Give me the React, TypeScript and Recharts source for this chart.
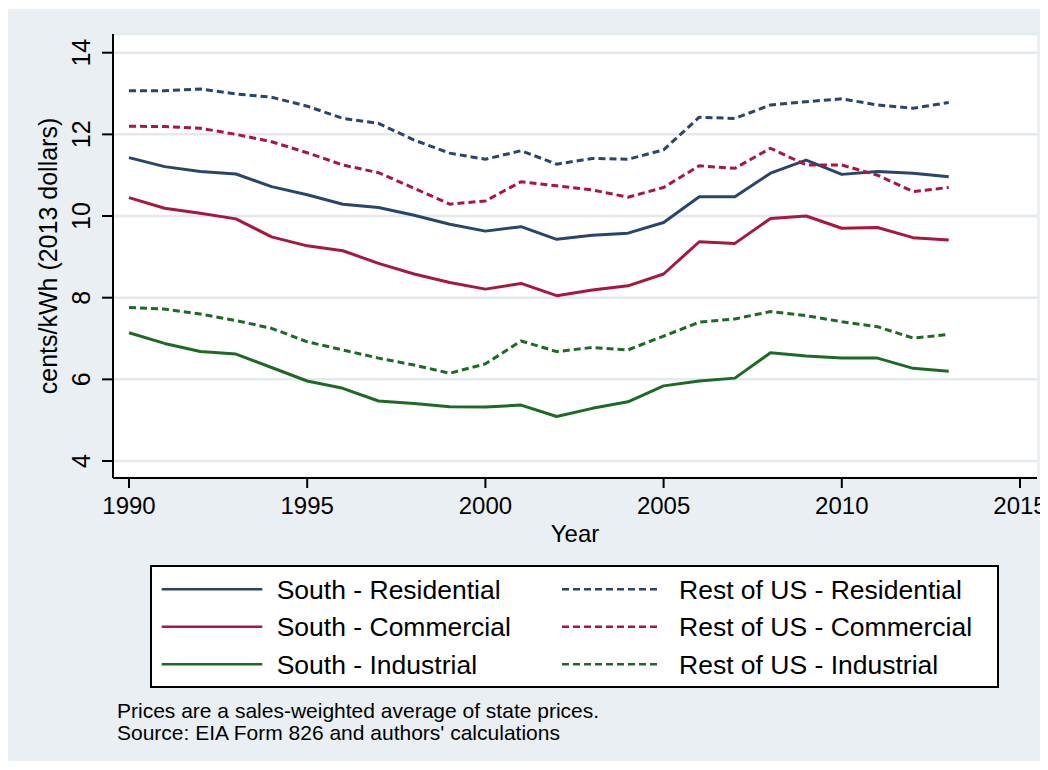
import React from 'react';
import { LineChart, Line, XAxis, YAxis, CartesianGrid } from 'recharts';

const FONT = '"Liberation Sans", Arial, Helvetica, sans-serif';

const years = [1990, 1991, 1992, 1993, 1994, 1995, 1996, 1997, 1998, 1999, 2000, 2001, 2002, 2003, 2004, 2005, 2006, 2007, 2008, 2009, 2010, 2011, 2012, 2013];

const southResidential = [11.43, 11.21, 11.09, 11.03, 10.72, 10.52, 10.29, 10.21, 10.02, 9.8, 9.63, 9.74, 9.43, 9.53, 9.58, 9.84, 10.47, 10.47, 11.05, 11.37, 11.02, 11.09, 11.05, 10.96];
const southCommercial = [10.45, 10.19, 10.07, 9.93, 9.49, 9.27, 9.15, 8.84, 8.58, 8.37, 8.21, 8.35, 8.05, 8.19, 8.29, 8.58, 9.37, 9.33, 9.94, 10.0, 9.7, 9.72, 9.47, 9.41];
const southIndustrial = [7.14, 6.88, 6.68, 6.62, 6.29, 5.96, 5.78, 5.47, 5.41, 5.33, 5.32, 5.37, 5.09, 5.29, 5.45, 5.84, 5.96, 6.03, 6.65, 6.57, 6.52, 6.52, 6.27, 6.2];
const restResidential = [13.07, 13.07, 13.11, 12.99, 12.91, 12.69, 12.39, 12.27, 11.86, 11.54, 11.39, 11.6, 11.27, 11.41, 11.39, 11.62, 12.42, 12.39, 12.72, 12.8, 12.87, 12.72, 12.64, 12.78];
const restCommercial = [12.2, 12.19, 12.15, 12.0, 11.82, 11.55, 11.25, 11.06, 10.68, 10.29, 10.37, 10.84, 10.74, 10.64, 10.46, 10.7, 11.23, 11.17, 11.66, 11.25, 11.25, 11.0, 10.6, 10.7];
const restIndustrial = [7.76, 7.72, 7.6, 7.44, 7.25, 6.92, 6.72, 6.52, 6.35, 6.15, 6.38, 6.94, 6.68, 6.78, 6.72, 7.06, 7.4, 7.48, 7.66, 7.56, 7.41, 7.29, 7.01, 7.1];

const xTicks = [1990, 1995, 2000, 2005, 2010, 2015];
const yTicks = [4, 6, 8, 10, 12, 14];

const NAVY = '#28456d';
const MAROON = '#a8173f';
const GREEN = '#1d6a25';

const series = [
  { key: 'southResidential', name: 'South - Residential', color: NAVY, dashed: false, values: southResidential },
  { key: 'southCommercial', name: 'South - Commercial', color: MAROON, dashed: false, values: southCommercial },
  { key: 'southIndustrial', name: 'South - Industrial', color: GREEN, dashed: false, values: southIndustrial },
  { key: 'restResidential', name: 'Rest of US - Residential', color: NAVY, dashed: true, values: restResidential },
  { key: 'restCommercial', name: 'Rest of US - Commercial', color: MAROON, dashed: true, values: restCommercial },
  { key: 'restIndustrial', name: 'Rest of US - Industrial', color: GREEN, dashed: true, values: restIndustrial },
];

const data = years.map((year, i) => {
  const row: Record<string, number> = { year };
  series.forEach((s) => {
    row[s.key] = s.values[i];
  });
  return row;
});

const CHART_W = 1040;
const CHART_H = 560;
const MARGIN = { top: 25, right: 11, left: 0, bottom: 0 };
const Y_AXIS_W = 105;
const X_AXIS_H = 91;

const YTick = (props: any) => {
  const { x, y, payload } = props;
  return (
    <text
      x={x}
      y={y}
      transform={`rotate(-90, ${x}, ${y})`}
      textAnchor="middle"
      fontSize={25}
      fill="#000"
      fontFamily={FONT}
    >
      {payload.value}
    </text>
  );
};

const XTick = (props: any) => {
  const { x, y, payload } = props;
  return (
    <text x={x} y={y} dy="0.71em" textAnchor="middle" fontSize={24} fill="#000" fontFamily={FONT}>
      {payload.value}
    </text>
  );
};

const YTitle = (props: any) => {
  const vb = props && props.viewBox && props.viewBox.height ? props.viewBox : { x: 0, y: MARGIN.top, width: Y_AXIS_W, height: CHART_H - MARGIN.top - X_AXIS_H };
  const cx = vb.x + 49;
  const cy = vb.y + vb.height / 2;
  return (
    <text x={cx} y={cy} transform={`rotate(-90, ${cx}, ${cy})`} textAnchor="middle" fontSize={25} fill="#000" fontFamily={FONT}>
      cents/kWh (2013 dollars)
    </text>
  );
};

const XTitle = (props: any) => {
  const vb = props && props.viewBox && props.viewBox.width ? props.viewBox : { x: Y_AXIS_W, y: CHART_H - X_AXIS_H, width: CHART_W - Y_AXIS_W - MARGIN.right, height: X_AXIS_H };
  return (
    <text x={vb.x + vb.width / 2} y={vb.y + 64} textAnchor="middle" fontSize={24} fill="#000" fontFamily={FONT}>
      Year
    </text>
  );
};

const LEGEND = { left: 142, top: 556, width: 849, height: 123 };
const legendRows = [24.3, 61.7, 99.3];
const legendCols = [
  { x1: 11.7, x2: 112.3, tx: 126.7 },
  { x1: 412, x2: 511, tx: 529 },
];

export default function App() {
  const southSeries = series.filter((s) => !s.dashed);
  const restSeries = series.filter((s) => s.dashed);
  return (
    <div
      style={{
        position: 'relative',
        top: 1,
        width: 1040,
        height: 753,
        background: '#e9eff2',
        fontFamily: FONT,
      }}
    >
      <style>{'html,body{overflow:hidden}.recharts-surface{overflow:visible}.recharts-wrapper{overflow:visible}'}</style>
      <LineChart width={CHART_W} height={CHART_H} data={data} margin={MARGIN}>
        <CartesianGrid vertical={false} stroke="#e3e9ec" strokeWidth={2.5} fill="#ffffff" />
        <XAxis
          dataKey="year"
          type="number"
          domain={[1989.551, 2015.477]}
          allowDataOverflow
          ticks={xTicks}
          interval={0}
          height={X_AXIS_H}
          tickSize={10}
          tickMargin={9}
          axisLine={{ stroke: '#000', strokeWidth: 2 }}
          tickLine={{ stroke: '#000', strokeWidth: 2 }}
          tick={<XTick />}
          label={(p: any) => <XTitle {...p} />}
        />
        <YAxis
          type="number"
          domain={[3.584, 14.458]}
          allowDataOverflow
          ticks={yTicks}
          interval={0}
          width={Y_AXIS_W}
          tickSize={11}
          tickMargin={12}
          axisLine={{ stroke: '#000', strokeWidth: 2 }}
          tickLine={{ stroke: '#000', strokeWidth: 2 }}
          tick={<YTick />}
          label={(p: any) => <YTitle {...p} />}
        />
        {series.map((s) => (
          <Line
            key={s.key}
            dataKey={s.key}
            name={s.name}
            type="linear"
            stroke={s.color}
            strokeWidth={3}
            strokeDasharray={s.dashed ? '7 4' : undefined}
            strokeLinejoin="round"
            dot={false}
            activeDot={false}
            isAnimationActive={false}
          />
        ))}
      </LineChart>

      <svg
        width={1040}
        height={753}
        style={{ position: 'absolute', left: 0, top: 0, pointerEvents: 'none' }}
      >
        <g transform={`translate(${LEGEND.left}, ${LEGEND.top})`}>
          <rect x={1} y={1} width={LEGEND.width - 2} height={LEGEND.height - 2} fill="#ffffff" stroke="#000" strokeWidth={2} />
          {[southSeries, restSeries].map((col, ci) =>
            col.map((s, ri) => (
              <g key={s.key}>
                <line
                  x1={legendCols[ci].x1}
                  x2={legendCols[ci].x2}
                  y1={legendRows[ri]}
                  y2={legendRows[ri]}
                  stroke={s.color}
                  strokeWidth={2.5}
                  strokeDasharray={s.dashed ? '7 4' : undefined}
                />
                <text x={legendCols[ci].tx} y={legendRows[ri] + 9.3} fontSize={26.5} fill="#000" fontFamily={FONT}>
                  {s.name}
                </text>
              </g>
            ))
          )}
        </g>
        <text x={109} y={709} fontSize={21} fill="#000" fontFamily={FONT}>
          Prices are a sales-weighted average of state prices.
        </text>
        <text x={109} y={731} fontSize={21} fill="#000" fontFamily={FONT}>
          Source: EIA Form 826 and authors' calculations
        </text>
      </svg>
    </div>
  );
}
